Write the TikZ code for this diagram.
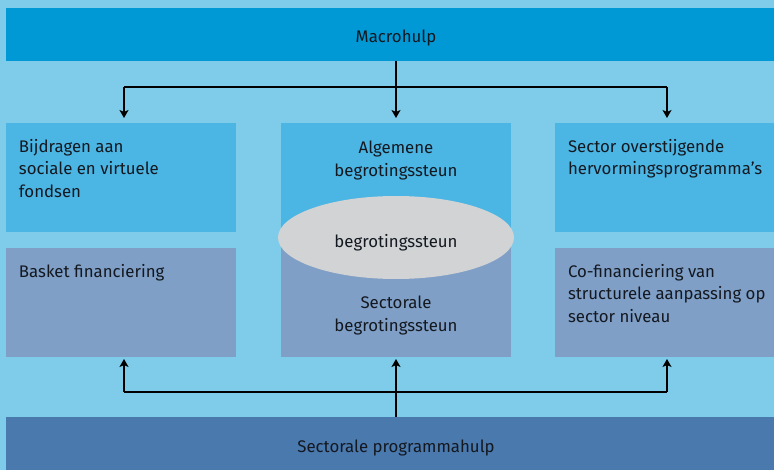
\documentclass[tikz,border=0pt]{standalone}
\usepackage{fontspec}
\setmainfont{Fira Sans}
\usetikzlibrary{arrows.meta,calc,shapes.geometric}
\definecolor{bg}{HTML}{7FCBEA}
\definecolor{topbar}{HTML}{0099D6}
\definecolor{upbox}{HTML}{4BB5E3}
\definecolor{lowbox}{HTML}{7F9FC6}
\definecolor{botbar}{HTML}{4A79AE}
\definecolor{ellgrey}{HTML}{D1D3D4}
\definecolor{ink}{HTML}{141820}
\begin{document}
\begin{tikzpicture}[x=1pt,y=-1pt,
  panel/.style={draw=none,inner sep=0pt,outer sep=0pt,anchor=north west},
  txt/.style={inner sep=0pt,outer sep=0pt,text=ink,font=\fontsize{16.8}{22.5}\selectfont},
  ltxt/.style={txt,align=left,anchor=north west},
  ctxt/.style={txt,align=center,anchor=north},
  arr/.style={draw=black,line width=1.1pt,-{Stealth[length=8pt,width=9pt,inset=2pt]}},
  ln/.style={draw=black,line width=1.1pt}
]
\useasboundingbox (0,0) rectangle (774,470);
\fill[bg] (0,0) rectangle (774,470);

% bars
\node[panel,fill=topbar,minimum width=768pt,minimum height=53pt] (macro) at (6,8) {};
\node[panel,fill=botbar,minimum width=768pt,minimum height=53pt] (sector) at (6,417) {};
\node[txt,anchor=base] (macrot) at (396,43) {Macrohulp};
\node[txt,anchor=base] (sectort) at (396,452) {Sectorale programmahulp};

% left column
\node[panel,fill=upbox,minimum width=230pt,minimum height=109pt] (b1) at (6,123) {};
\node[panel,fill=lowbox,minimum width=230pt,minimum height=109pt] (b2) at (6,248) {};
% center column
\node[panel,fill=upbox,minimum width=230pt,minimum height=117pt] (c1) at (281,123) {};
\node[panel,fill=lowbox,minimum width=230pt,minimum height=117pt] (c2) at (281,240) {};
% right column
\node[panel,fill=upbox,minimum width=219pt,minimum height=109pt] (b3) at (555,123) {};
\node[panel,fill=lowbox,minimum width=219pt,minimum height=109pt] (b4) at (555,248) {};

% ellipse
\node[ellipse,fill=ellgrey,draw=none,minimum width=236pt,minimum height=83pt,inner sep=0pt] (ell) at (396,237.5) {};

% texts
\node[ltxt] (b1t) at ([shift={(13,16)}]b1.north west) {Bijdragen aan\\sociale en virtuele\\fondsen};
\node[ltxt] (b2t) at ([shift={(13,16)}]b2.north west) {Basket financiering};
\node[ltxt] (b3t) at ([shift={(13,16)}]b3.north west) {Sector overstijgende\\hervormingsprogramma’s};
\node[ltxt] (b4t) at ([shift={(13,16)}]b4.north west) {Co-financiering van\\structurele aanpassing op\\sector niveau};
\node[ctxt] (c1t) at (396,141) {Algemene\\begrotingssteun};
\node[txt,anchor=base] (ellt) at (396,248) {begrotingssteun};
\node[ctxt] (c2t) at (396,296) {Sectorale\\begrotingssteun};

% top connectors
\coordinate (hubT) at (396,87);
\coordinate (tipL) at (124,118);
\coordinate (tipC) at (396,118);
\coordinate (tipR) at (667,118);
\draw[ln] (macro.south -| hubT) -- (hubT);
\draw[ln] (tipL |- hubT) -- (tipR |- hubT);
\draw[arr] (tipL |- hubT) -- (tipL);
\draw[arr] (hubT) -- (tipC);
\draw[arr] (tipR |- hubT) -- (tipR);

% bottom connectors
\coordinate (hubB) at (396,392);
\coordinate (btipL) at (124,359);
\coordinate (btipC) at (396,359);
\coordinate (btipR) at (667,359);
\draw[ln] (sector.north -| hubB) -- (hubB);
\draw[ln] (btipL |- hubB) -- (btipR |- hubB);
\draw[arr] (btipL |- hubB) -- (btipL);
\draw[arr] (hubB) -- (btipC);
\draw[arr] (btipR |- hubB) -- (btipR);
\end{tikzpicture}
\end{document}
